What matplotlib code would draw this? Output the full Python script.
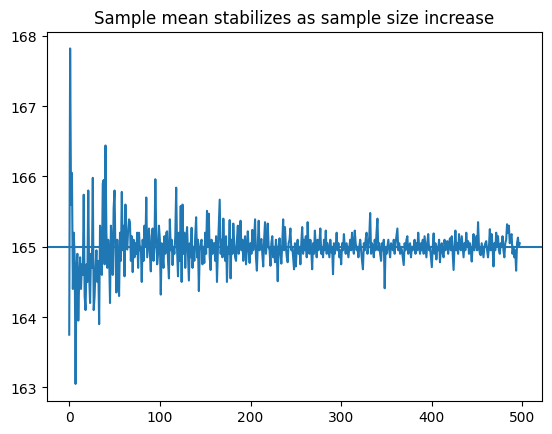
import matplotlib
matplotlib.use("Agg")
import matplotlib.pyplot as plt

# sample mean, one value per sample size step
sample_means = [
    163.75, 167.82, 165.60, 166.05, 164.40, 165.20, 164.85, 163.05, 164.70, 164.90,
    163.95, 164.55, 164.85, 164.40, 164.75, 164.60, 165.74, 164.30, 164.10, 164.75,
    164.50, 165.80, 164.60, 164.20, 164.90, 164.70, 165.98, 164.10, 164.30, 164.70,
    164.95, 164.50, 164.80, 163.90, 165.30, 164.85, 164.60, 165.90, 165.95, 164.75,
    166.44, 165.20, 164.70, 165.10, 164.90, 164.20, 165.30, 165.00, 164.60, 165.55,
    165.80, 164.90, 164.35, 165.10, 164.60, 164.30, 165.20, 164.80, 165.78, 164.95,
    165.30, 164.58, 165.60, 165.00, 164.96, 165.25, 165.39, 165.35, 164.80, 165.15,
    164.64, 165.10, 164.85, 165.05, 164.90, 165.20, 164.70, 165.20, 164.95, 165.00,
    164.50, 165.10, 164.80, 165.30, 165.00, 165.70, 164.85, 165.05, 165.26, 164.90,
    164.65, 165.15, 165.26, 164.80, 165.00, 165.96, 165.20, 164.75, 164.90, 165.30,
    165.10, 164.32, 165.05, 164.85, 164.70, 165.15, 164.90, 165.20, 165.22, 164.80,
    164.55, 165.39, 164.95, 165.10, 164.74, 165.00, 164.90, 165.15, 165.84, 164.95,
    164.58, 165.20, 164.80, 165.58, 164.50, 165.60, 164.90, 165.20, 164.70, 165.10,
    165.28, 164.90, 164.52, 165.05, 164.85, 165.27, 164.70, 165.00, 164.80, 165.15,
    165.42, 164.85, 165.10, 164.37, 164.95, 165.05, 165.10, 164.75, 165.00, 164.77,
    165.20, 164.90, 165.51, 165.00, 165.47, 164.85, 164.67, 165.10, 164.90, 165.05,
    165.05, 164.80, 165.15, 164.50, 164.95, 165.30, 165.67, 164.90, 165.10, 164.85,
    165.40, 165.00, 164.80, 165.15, 164.50, 165.00, 164.90, 165.38, 164.55, 165.10,
    164.90, 165.33, 165.05, 164.85, 164.80, 165.10, 165.30, 164.90, 165.05, 165.37,
    164.95, 165.10, 164.80, 165.05, 165.15, 164.75, 165.00, 165.22, 164.95, 164.77,
    165.05, 164.90, 165.24, 164.95, 165.10, 165.39, 164.85, 164.66, 165.00, 165.37,
    164.95, 165.05, 165.11, 164.90, 164.72, 165.10, 165.35, 164.90, 165.05, 165.33,
    165.00, 164.95, 164.73, 165.05, 165.15, 164.85, 165.00, 164.78, 165.10, 164.90,
    164.51, 165.00, 165.12, 164.90, 164.76, 165.05, 165.39, 164.95, 165.28, 165.00,
    164.85, 164.78, 165.05, 165.10, 165.26, 164.95, 165.00, 164.85, 164.68, 165.05,
    164.72, 165.00, 165.10, 164.90, 165.00, 164.75, 165.05, 165.28, 164.90, 165.10,
    164.95, 165.15, 164.85, 165.35, 165.00, 164.90, 165.10, 164.95, 164.68, 165.05,
    164.90, 165.23, 165.00, 164.85, 165.10, 164.95, 165.05, 165.26, 164.90, 165.00,
    164.85, 165.10, 164.95, 165.23, 164.90, 165.05, 164.95, 164.85, 165.10, 164.92,
    165.00, 164.61, 165.05, 164.90, 165.00, 165.20, 164.95, 165.05, 164.85, 164.95,
    164.75, 165.05, 164.95, 165.18, 165.00, 164.90, 165.05, 164.95, 164.85, 165.00,
    165.10, 164.95, 165.20, 165.00, 164.90, 165.23, 165.05, 164.95, 165.00, 164.85,
    165.00, 165.10, 164.95, 164.80, 164.68, 165.05, 164.95, 165.10, 165.20, 164.90,
    165.00, 165.15, 165.48, 164.90, 165.05, 165.00, 164.85, 165.10, 164.95, 165.20,
    165.40, 164.95, 165.05, 164.90, 164.80, 165.05, 164.95, 165.10, 164.41, 165.00,
    164.90, 165.00, 165.10, 164.95, 164.85, 165.05, 165.00, 164.95, 165.10, 164.90,
    165.05, 165.15, 165.26, 164.95, 165.05, 164.90, 165.00, 164.95, 164.85, 164.74,
    165.05, 164.95, 165.10, 165.15, 164.90, 165.00, 165.05, 164.85, 165.00, 164.95,
    165.00, 165.10, 164.90, 165.05, 164.95, 165.20, 165.00, 164.90, 165.05, 164.95,
    165.10, 164.90, 165.15, 165.00, 164.85, 165.05, 165.18, 164.95, 165.00, 164.85,
    164.71, 165.00, 165.19, 164.90, 165.05, 164.82, 165.00, 164.95, 165.10, 164.78,
    165.00, 165.05, 164.90, 164.85, 165.10, 164.95, 165.00, 165.08, 164.90, 165.05,
    165.12, 164.95, 165.15, 164.90, 164.67, 165.00, 165.23, 164.95, 165.05, 164.90,
    165.18, 165.00, 164.95, 165.15, 165.00, 164.85, 165.05, 164.95, 165.20, 165.00,
    165.08, 164.90, 165.05, 164.95, 164.79, 165.00, 165.18, 164.95, 165.05, 165.15,
    164.95, 165.35, 165.00, 164.90, 164.88, 165.05, 164.95, 164.85, 165.00, 165.05,
    165.08, 164.95, 164.85, 165.00, 165.25, 164.95, 165.18, 165.00, 164.72, 165.05,
    164.95, 165.20, 165.00, 165.15, 164.95, 164.90, 165.05, 165.00, 165.15, 164.95,
    164.85, 165.05, 165.10, 165.32, 165.20, 165.30, 165.05, 165.15, 165.18, 164.90,
    165.00, 164.85, 164.95, 164.66, 165.05, 165.13, 165.00, 165.05,
]
population_mean = 165

fig = plt.figure(figsize=(5.52, 4.35), dpi=100)
ax = fig.add_axes([0.0846, 0.0766, 0.8978, 0.8483])

ax.plot(range(len(sample_means)), sample_means)
ax.axhline(population_mean)

ax.set_title('Sample mean stabilizes as sample size increase')

fig.savefig('out.png', dpi=100)
